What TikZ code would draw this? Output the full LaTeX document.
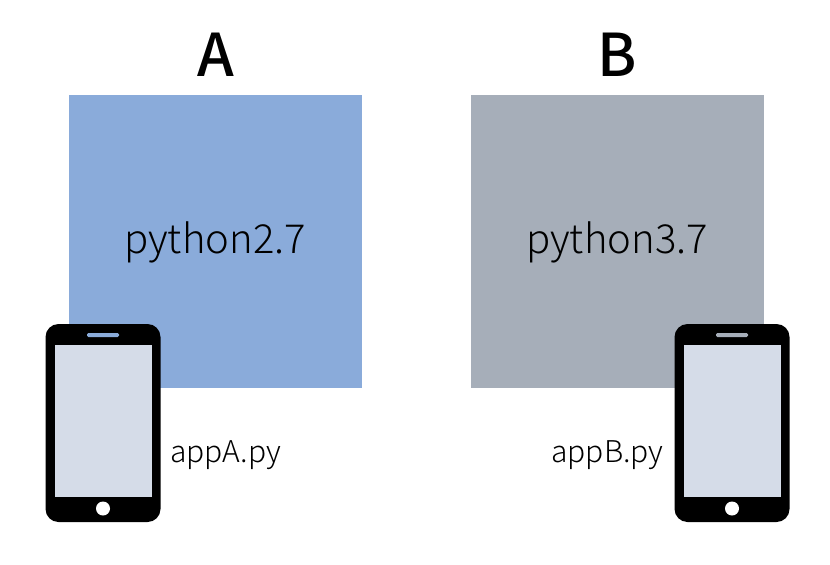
\documentclass[tikz,border=0pt]{standalone}
\usepackage{fontspec}
\setmainfont{Noto Sans CJK SC Medium}
\newfontfamily\lightfont{Noto Sans CJK SC Light}
\usetikzlibrary{positioning}
\definecolor{boxA}{HTML}{8AABDA}
\definecolor{boxB}{HTML}{A6AEB9}
\definecolor{screen}{HTML}{D5DCE8}
\tikzset{
    envbox/.style={minimum size=293*0.03514cm, inner sep=0pt, font=\lightfont\fontsize{40}{44}\selectfont},
    title/.style={font=\fontsize{59}{64}\selectfont},
    applabel/.style={font=\lightfont\fontsize{30}{34}\selectfont},
    phonebody/.style={fill=black, rounded corners=13pt, minimum width=115*0.03514cm, minimum height=198*0.03514cm, inner sep=0pt},
    phonescreen/.style={fill=screen, minimum width=97*0.03514cm, minimum height=152*0.03514cm, inner sep=0pt},
    homebutton/.style={circle, fill=white, minimum size=14*0.03514cm, inner sep=0pt},
    speaker/.style={rounded corners=1.4pt, minimum width=32*0.03514cm, minimum height=4*0.03514cm, inner sep=0pt}
}
\begin{document}
\begin{tikzpicture}[x=0.03514cm, y=-0.03514cm]
    \useasboundingbox (0, 0) rectangle (830, 565);
    \node[envbox, fill=boxA] (BA) at (215.5, 241.5) {};
    \node[envbox, fill=boxB] (BB) at (617.5, 241.5) {};
    \node[envbox] (NA) at (215, 242.5) {python2.7};
    \node[envbox] (NB) at (617, 242.5) {python3.7};
    \node[title] (TA) at (215.5, 55) {A};
    \node[title] (TB) at (617.5, 55) {B};

    \node[phonebody] (PA) at (103, 423) {};
    \node[phonescreen] (SA) at (103, 421) {};
    \node[homebutton] (HA) at (103, 508.5) {};
    \node[speaker, fill=boxA] (KA) at (103, 335) {};
    \node[applabel] (LA) at (225.5, 455) {appA.py};

    \node[phonebody] (PB) at (732, 423) {};
    \node[phonescreen] (SB) at (732, 421) {};
    \node[homebutton] (HB) at (732, 508.5) {};
    \node[speaker, fill=boxB] (KB) at (732, 335) {};
    \node[applabel] (LB) at (607.5, 455) {appB.py};
\end{tikzpicture}
\end{document}
